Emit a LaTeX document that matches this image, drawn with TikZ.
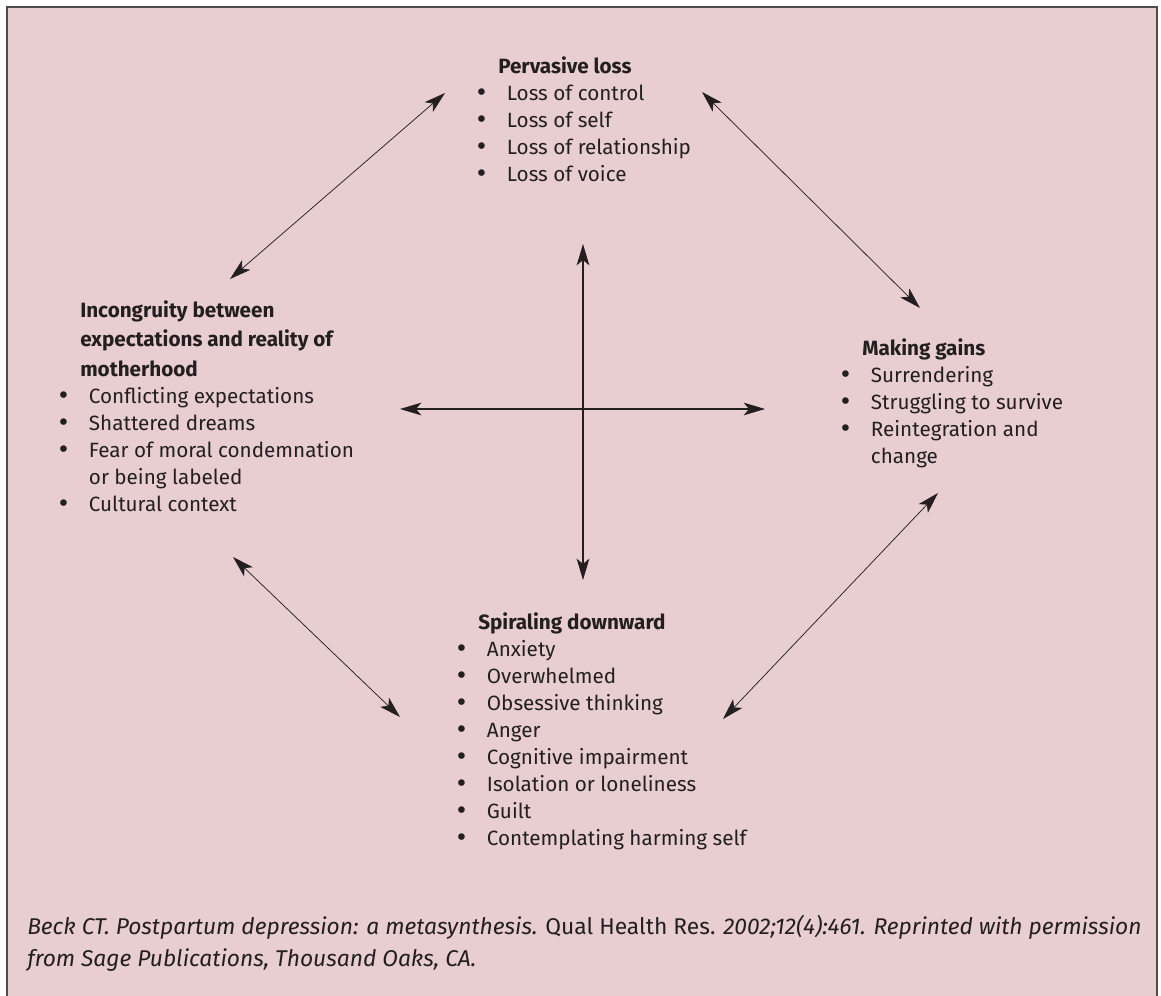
\documentclass[tikz,border=0pt]{standalone}
\usepackage{fontspec}
\setmainfont{Fira Sans}
\newfontfamily\bulletfont{DejaVu Sans}
\usetikzlibrary{arrows.meta, positioning}
\definecolor{bgpink}{HTML}{E8CDD1}
\definecolor{inkgray}{HTML}{231F20}
\newcommand{\blockfont}{\fontsize{15.5}{20.25}\selectfont}
\newcommand{\itm}[1]{\makebox[23pt][l]{\hspace*{-1pt}{\bulletfont\fontsize{17}{20}\selectfont •}}#1}
\newcommand{\hd}[1]{\hspace*{16.5pt}\textbf{#1}}
\tikzset{
  link/.style={{Stealth[length=16pt,width=9.5pt,inset=4pt]}-{Stealth[length=16pt,width=9.5pt,inset=4pt]},
    line width=0.55pt, draw=inkgray},
  cross/.style={link, line width=0.8pt},
  block/.style={anchor=base west, inner sep=0pt, font=\blockfont, text=inkgray},
  source/.style={anchor=base west, inner sep=0pt, font=\fontsize{17.1}{24}\selectfont\itshape, text=inkgray},
}

\begin{document}
\begin{tikzpicture}[x=0.75pt, y=-0.75pt]
  \useasboundingbox (0,0) rectangle (1161,996);
  \fill[bgpink] (7,7) rectangle (1157,996);
  \draw[line width=1.5pt, draw=black!70] (7,1000) -- (7,7) -- (1157,7) -- (1157,1000);

  % the four themes
  \node[block] (loss) at (476,73) {\begin{tabular}[t]{@{}l@{}}
      \hd{Pervasive loss}\\
      \itm{Loss of control}\\
      \itm{Loss of self}\\
      \itm{Loss of relationship}\\
      \itm{Loss of voice}
    \end{tabular}};
  \node[block] (incongruity) at (58,317) {\begin{tabular}[t]{@{}l@{}}
      \hd{Incongruity between}\\[2pt]
      \hd{expectations and reality of}\\[2pt]
      \hd{motherhood}\\
      \itm{Conflicting expectations}\\
      \itm{Shattered dreams}\\
      \itm{Fear of moral condemnation}\\
      \hspace*{23pt}or being labeled\\
      \itm{Cultural context}
    \end{tabular}};
  \node[block] (gains) at (840,355) {\begin{tabular}[t]{@{}l@{}}
      \hd{Making gains}\\
      \itm{Surrendering}\\
      \itm{Struggling to survive}\\
      \itm{Reintegration and}\\
      \hspace*{23pt}change
    \end{tabular}};
  \node[block] (spiral) at (456,629) {\begin{tabular}[t]{@{}l@{}}
      \hd{Spiraling downward}\\
      \itm{Anxiety}\\
      \itm{Overwhelmed}\\
      \itm{Obsessive thinking}\\
      \itm{Anger}\\
      \itm{Cognitive impairment}\\
      \itm{Isolation or loneliness}\\
      \itm{Guilt}\\
      \itm{Contemplating harming self}
    \end{tabular}};

  % arrow ends
  \coordinate (lossW) at (445,93);
  \coordinate (lossE) at (702,92);
  \coordinate (incN) at (230,279);
  \coordinate (incS) at (233,557);
  \coordinate (gainsN) at (920,308);
  \coordinate (gainsS) at (938,493);
  \coordinate (spirW) at (400,717);
  \coordinate (spirE) at (723,719);
  \coordinate (midN) at (583,244);
  \coordinate (midS) at (583,580);
  \coordinate (midW) at (400,409);
  \coordinate (midE) at (765,409);

  \draw[link] (lossW) -- (incN);
  \draw[link] (lossE) -- (gainsN);
  \draw[link] (gainsS) -- (spirE);
  \draw[link] (incS) -- (spirW);
  \draw[cross] (midN) -- (midS);
  \draw[cross] (midW) -- (midE);

  \node[source] (cite) at (27,934) {\begin{tabular}[t]{@{}l@{}}
      Beck CT. Postpartum depression: a metasynthesis. {\upshape Qual Health Res.} 2002;12(4):461. Reprinted with permission\\
      from Sage Publications, Thousand Oaks, CA.
    \end{tabular}};
\end{tikzpicture}
\end{document}
